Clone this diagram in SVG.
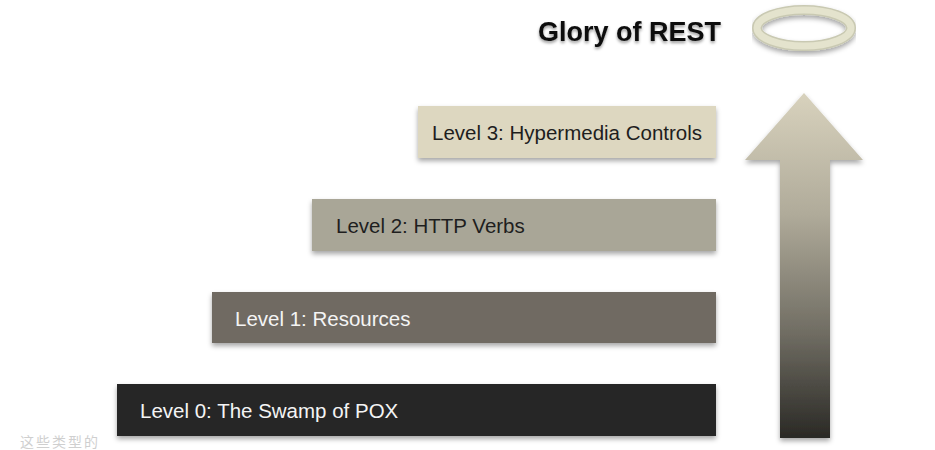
<svg xmlns="http://www.w3.org/2000/svg" width="935" height="450" viewBox="0 0 935 450">
<defs>
<style>
.lbl{font-family:"Liberation Sans",Arial,sans-serif;font-size:20.5px}
.dark{fill:#1e1e1e}
.light{fill:#f4f4f4}
</style>
<filter id="sh" x="-5%" y="-20%" width="110%" height="150%">
<feDropShadow dx="0" dy="3" stdDeviation="2.5" flood-color="#000" flood-opacity="0.35"/>
</filter>
<filter id="tsh" x="-5%" y="-30%" width="110%" height="160%">
<feDropShadow dx="0" dy="2" stdDeviation="1.5" flood-color="#000" flood-opacity="0.4"/>
</filter>
<linearGradient id="ag" x1="0" y1="0" x2="0" y2="1">
<stop offset="0" stop-color="#d8d2bd"/>
<stop offset="0.35" stop-color="#b0ab9a"/>
<stop offset="0.7" stop-color="#6f6c62"/>
<stop offset="1" stop-color="#2a2925"/>
</linearGradient>
</defs>
<rect width="935" height="450" fill="#fff"/>
<g id="level0">
<rect x="117" y="384" width="599" height="52" fill="#262626" filter="url(#sh)"/>
<text class="lbl light" x="140" y="418">Level 0: The Swamp of POX</text>
</g>
<g id="level1">
<rect x="212" y="292" width="504" height="51" fill="#6f6b62" filter="url(#sh)"/>
<text class="lbl light" x="235" y="326">Level 1: Resources</text>
</g>
<g id="level2">
<rect x="312" y="199" width="404" height="52" fill="#a9a697" filter="url(#sh)"/>
<text class="lbl dark" x="336" y="233">Level 2: HTTP Verbs</text>
</g>
<g id="level3">
<rect x="418" y="106" width="298" height="52" fill="#ddd7c0" filter="url(#sh)"/>
<text class="lbl dark" x="432" y="140">Level 3: Hypermedia Controls</text>
</g>
<g id="arrow">
<polygon points="804,93 863,160 830,160 830,438 780,438 780,160 745,160" fill="url(#ag)" filter="url(#sh)"/>
</g>
<g id="glory">
<text x="538" y="41" font-family="'Liberation Sans',Arial,sans-serif" font-size="27" font-weight="bold" fill="#111" filter="url(#tsh)">Glory of REST</text>
<ellipse cx="804" cy="28" rx="47" ry="18" fill="none" stroke="#c9c9b2" stroke-width="10" filter="url(#sh)"/>
<ellipse cx="804" cy="28" rx="47" ry="18" fill="none" stroke="#e4e3cd" stroke-width="7"/>
</g>
<g id="connectors"/>
<text x="20" y="447" font-family="'Noto Sans CJK SC',sans-serif" font-size="14" letter-spacing="2" fill="#cfcfcf">这些类型的</text>
</svg>
